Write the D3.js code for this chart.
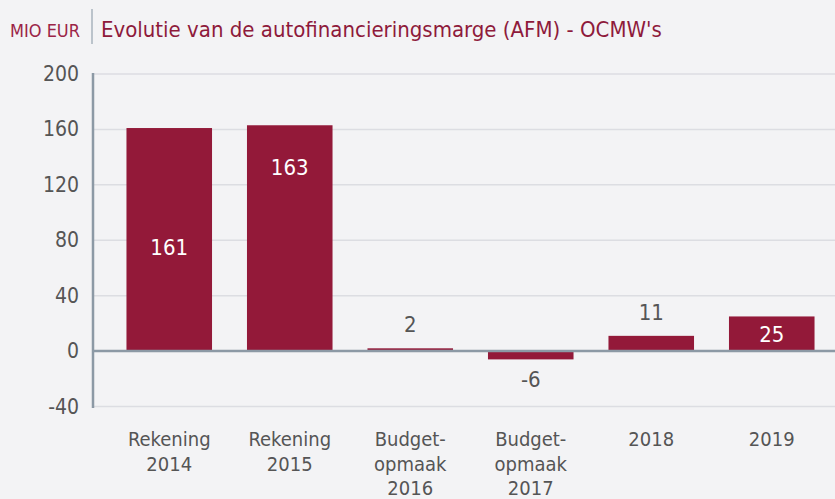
<!DOCTYPE html>
<html lang="nl">
<head>
<meta charset="utf-8">
<title>AFM OCMW's</title>
<script src="https://cdn.jsdelivr.net/npm/d3@7"></script>
<style>
  body { margin: 0; background: #f3f3f5; }
  svg { display: block; font-family: "DejaVu Sans Condensed", sans-serif; }
</style>
</head>
<body>
<script>
var categories = [["Rekening", "2014"], ["Rekening", "2015"], ["Budget-", "opmaak", "2016"],
                  ["Budget-", "opmaak", "2017"], ["2018"], ["2019"]];
var values = [161, 163, 2, -6, 11, 25];
var yTicks = [-40, 0, 40, 80, 120, 160, 200];
var labelPos = ["mid", "top", "out", "out", "out", "in"];

var w = 835, h = 499;
var red = "#931939";

var svg = d3.select("body").append("svg").attr("width", w).attr("height", h);

// title
svg.append("text").attr("x", 10).attr("y", 37).attr("fill", "#9b2447")
   .attr("font-size", 18).text("MIO EUR");
svg.append("line").attr("x1", 92).attr("x2", 92).attr("y1", 9).attr("y2", 44)
   .attr("stroke", "#a9b3bd").attr("stroke-width", 1.5);
svg.append("text").attr("x", 101).attr("y", 37).attr("fill", "#8e1a3b")
   .attr("font-size", 22).text("Evolutie van de autofinancieringsmarge (AFM) - OCMW's");

var y = d3.scaleLinear().domain([-40, 200]).range([406.5, 74]);
var x = d3.scaleBand().domain(d3.range(values.length)).range([109, 832])
    .paddingInner(0.29).paddingOuter(0.145);

// gridlines
svg.append("g").selectAll("line").data(yTicks).enter().append("line")
   .attr("x1", 93).attr("x2", w)
   .attr("y1", function (d) { return y(d); }).attr("y2", function (d) { return y(d); })
   .attr("stroke", "#dcdde2").attr("stroke-width", 1.5);

// y tick labels
svg.append("g").selectAll("text").data(yTicks).enter().append("text")
   .attr("x", 79).attr("y", function (d) { return y(d) + 7; })
   .attr("text-anchor", "end").attr("fill", "#555").attr("font-size", 21)
   .text(function (d) { return d; });

// bars
svg.append("g").selectAll("rect").data(values).enter().append("rect")
   .attr("x", function (d, i) { return x(i); })
   .attr("width", x.bandwidth())
   .attr("y", function (d) { return y(Math.max(0, d)); })
   .attr("height", function (d) { return Math.abs(y(d) - y(0)); })
   .attr("fill", red);

// axes lines
svg.append("line").attr("x1", 93).attr("x2", 93).attr("y1", 73).attr("y2", 408)
   .attr("stroke", "#8c99a5").attr("stroke-width", 2.5);
svg.append("line").attr("x1", 92).attr("x2", w).attr("y1", y(0)).attr("y2", y(0))
   .attr("stroke", "#8c99a5").attr("stroke-width", 2.5);

// value labels
svg.append("g").selectAll("text").data(values).enter().append("text")
   .attr("x", function (d, i) { return x(i) + x.bandwidth() / 2; })
   .attr("y", function (d, i) {
       var p = labelPos[i];
       if (p === "mid") return (y(d) + y(0)) / 2 + 15;
       if (p === "top") return y(d) + 50;
       if (p === "in") return y(d) + 26;
       return d >= 0 ? y(d) - 16 : y(d) + 28;
   })
   .attr("text-anchor", "middle").attr("font-size", 22)
   .attr("fill", function (d, i) { return labelPos[i] === "out" ? "#555" : "#fff"; })
   .text(function (d) { return d; });

// x labels
var xl = svg.append("g").selectAll("text").data(categories).enter().append("text")
   .attr("text-anchor", "middle").attr("fill", "#555").attr("font-size", 20)
   .attr("transform", function (d, i) { return "translate(" + (x(i) + x.bandwidth() / 2) + ",446)"; });
xl.selectAll("tspan").data(function (d) { return d; }).enter().append("tspan")
   .attr("x", 0).attr("y", function (d, j) { return j * 24.5; })
   .text(function (d) { return d; });
</script>
</body>
</html>
